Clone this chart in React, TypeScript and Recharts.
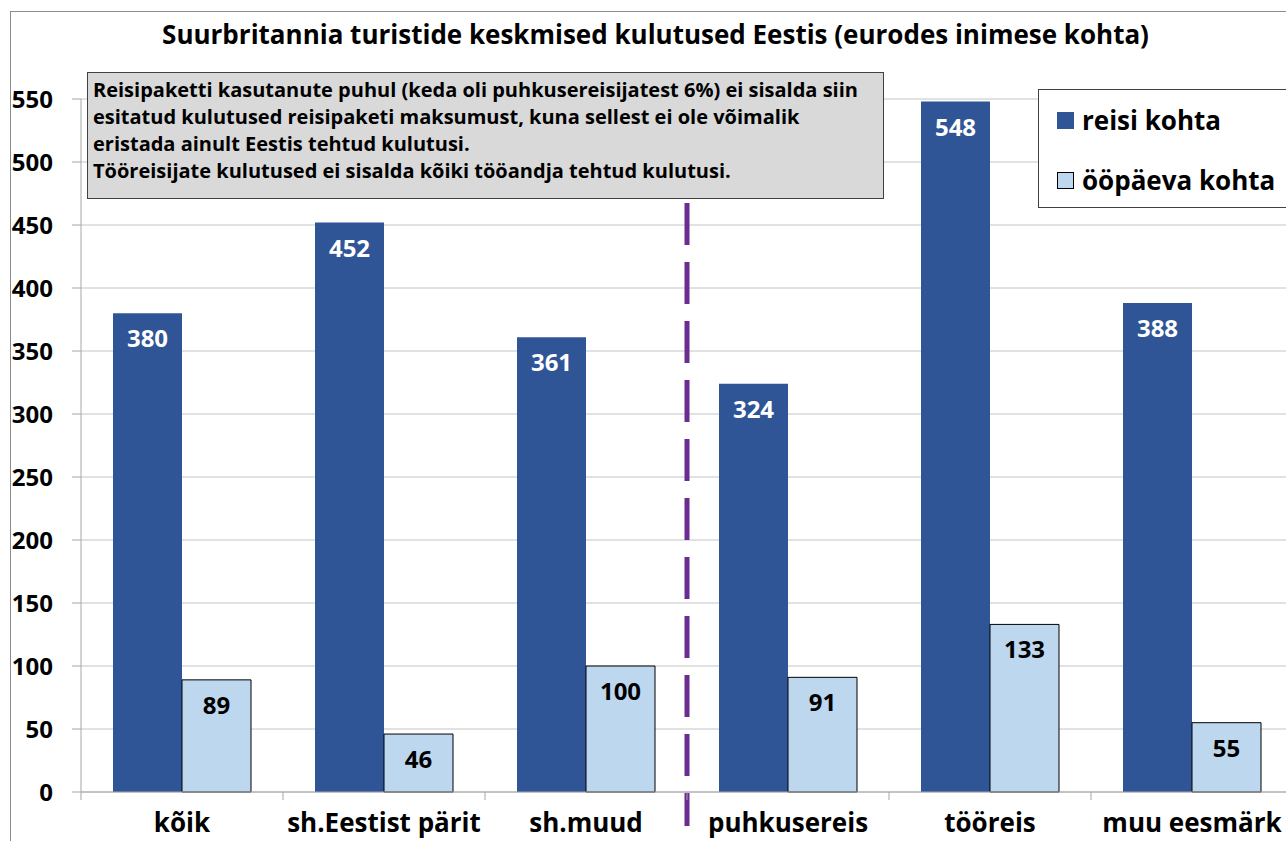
import React from 'react';
import { BarChart, Bar, XAxis, YAxis, CartesianGrid, LabelList, Legend, ReferenceLine } from 'recharts';

const categories = ['kõik', 'sh.Eestist pärit', 'sh.muud', 'puhkusereis', 'tööreis', 'muu eesmärk'];
const perTrip = [380, 452, 361, 324, 548, 388];
const perDay = [89, 46, 100, 91, 133, 55];
const yTicks = [0, 50, 100, 150, 200, 250, 300, 350, 400, 450, 500, 550];
const seriesNames = ['reisi kohta', 'ööpäeva kohta'];
const title = 'Suurbritannia turistide keskmised kulutused Eestis (eurodes inimese kohta)';
const noteLines = [
  'Reisipaketti kasutanute puhul (keda oli puhkusereisijatest 6%) ei sisalda siin',
  'esitatud kulutused reisipaketi maksumust, kuna sellest ei ole võimalik',
  'eristada ainult Eestis tehtud kulutusi.',
  'Tööreisijate kulutused ei sisalda kõiki tööandja tehtud kulutusi.',
];
const dividerAfter = 'sh.muud';

const data = categories.map((name, i) => ({ name, trip: perTrip[i], day: perDay[i] }));

const FONT = '"Open Sans", Lato, sans-serif';
const BLUE = '#2F5597';
const LIGHT = '#BDD7EE';

const XTick = (props: any) => {
  const { x, y, payload } = props;
  const off = payload && typeof payload.offset === 'number' ? payload.offset : 101;
  return (
    <g>
      <line x1={x - off} x2={x - off} y1={y} y2={y + 8} stroke="#A6A6A6" strokeWidth={1} />
      <text x={x} y={y + 40} textAnchor="middle" fontFamily={FONT} fontWeight="bold" fontSize={26} fill="#000">
        {payload.value}
      </text>
    </g>
  );
};

const DividerShape = (props: any) => {
  const { x1, x2, y1, y2 } = props;
  const top = Math.min(y1, y2);
  const bottom = Math.max(y1, y2);
  return (
    <line
      x1={x1}
      x2={x2}
      y1={top + 104}
      y2={bottom + 34}
      stroke="#6A2C91"
      strokeWidth={5}
      strokeDasharray="42 17"
    />
  );
};

const LegendBox = (props: any) => {
  const payload = props.payload || [];
  return (
    <div
      style={{
        position: 'relative',
        width: 270,
        height: 119,
        border: '1px solid #404040',
        background: '#fff',
        boxSizing: 'border-box',
      }}
    >
      {payload.map((p: any, i: number) => (
        <div key={i} style={{ position: 'absolute', left: 18, top: 20 + i * 60, height: 20, display: 'flex', alignItems: 'center' }}>
          <div
            style={{
              width: 17,
              height: 17,
              flex: '0 0 17px',
              background: p.color,
              border: i === 1 ? '1px solid #000' : 'none',
              boxSizing: 'border-box',
            }}
          />
          <span
            style={{
              marginLeft: 8,
              fontFamily: FONT,
              fontWeight: 'bold',
              fontSize: 26,
              color: '#000',
              lineHeight: '20px',
              whiteSpace: 'nowrap',
            }}
          >
            {p.value}
          </span>
        </div>
      ))}
    </div>
  );
};

export default function App() {
  return (
    <div style={{ position: 'fixed', left: 0, top: 0, width: 1286, height: 841, overflow: 'hidden', background: '#fff' }}>
      <div
        style={{
          position: 'absolute',
          left: 10,
          top: 11,
          width: 1400,
          height: 1000,
          border: '1px solid #8C8C8C',
          boxSizing: 'border-box',
        }}
      />
      <div style={{ position: 'absolute', left: 0, top: 0 }}>
        <BarChart
          width={1300}
          height={841}
          data={data}
          margin={{ top: 99, right: 7, bottom: 0, left: 0 }}
          barCategoryGap={32}
          barGap={0}
        >
          <CartesianGrid vertical={false} stroke="#C4C4C4" />
          <XAxis
            dataKey="name"
            height={49}
            interval={0}
            axisLine={{ stroke: '#A6A6A6' }}
            tickLine={false}
            tickSize={0}
            tickMargin={0}
            tick={<XTick />}
          />
          <YAxis
            width={81}
            domain={[0, 550]}
            ticks={yTicks}
            interval={0}
            axisLine={{ stroke: '#A6A6A6' }}
            tickLine={{ stroke: '#A6A6A6' }}
            tickSize={9}
            tickMargin={19}
            tick={{ fontFamily: FONT, fontWeight: 'bold', fontSize: 24, fill: '#000' }}
          />
          <ReferenceLine x={dividerAfter} position="end" shape={<DividerShape />} ifOverflow="visible" />
          <Legend
            layout="horizontal"
            verticalAlign="middle"
            align="center"
            content={<LegendBox />}
            wrapperStyle={{ position: 'absolute', left: 1038, top: 89, width: 270, height: 119 }}
          />
          <Bar dataKey="trip" name={seriesNames[0]} fill={BLUE} isAnimationActive={false}>
            <LabelList dataKey="trip" position="insideTop" offset={17} fill="#fff" fontFamily={FONT} fontWeight="bold" fontSize={24} />
          </Bar>
          <Bar dataKey="day" name={seriesNames[1]} fill={LIGHT} stroke="#000" strokeWidth={1} isAnimationActive={false}>
            <LabelList dataKey="day" position="insideTop" offset={17} fill="#000" fontFamily={FONT} fontWeight="bold" fontSize={24} />
          </Bar>
        </BarChart>
      </div>
      <div
        style={{
          position: 'absolute',
          left: 0,
          top: 21,
          width: 1311,
          textAlign: 'center',
          fontFamily: FONT,
          fontWeight: 'bold',
          fontSize: 26,
          lineHeight: '27px',
          color: '#000',
          whiteSpace: 'nowrap',
        }}
      >
        {title}
      </div>
      <div
        style={{
          position: 'absolute',
          left: 87,
          top: 72,
          width: 797,
          height: 127,
          background: '#D9D9D9',
          border: '1px solid #404040',
          boxSizing: 'border-box',
          paddingLeft: 5,
          paddingTop: 3,
          fontFamily: FONT,
          fontWeight: 'bold',
          fontSize: 20,
          lineHeight: '27px',
          color: '#000',
          whiteSpace: 'nowrap',
        }}
      >
        {noteLines.map((l, i) => (
          <div key={i}>{l}</div>
        ))}
      </div>
    </div>
  );
}
